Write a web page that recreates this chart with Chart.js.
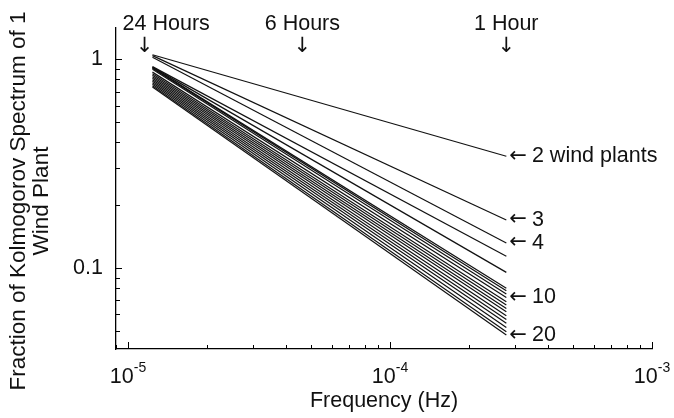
<!DOCTYPE html>
<html>
<head>
<meta charset="utf-8">
<script src="https://cdn.jsdelivr.net/npm/chart.js@4.4.1/dist/chart.umd.min.js"></script>
<style>
  html, body { margin: 0; padding: 0; background: #fff; }
  #wrap { width: 674px; height: 418px; }
</style>
</head>
<body>
<div id="wrap"><canvas id="spectrum-chart" width="674" height="418"></canvas></div>
<script>
// number of wind plants combined, one curve each
const plants = [2, 3, 4, 5, 6, 7, 8, 9, 10, 11, 12, 13, 14, 15, 16, 17, 18, 19, 20];
// curve end points (Hz)
const freqStart = 1.24e-5;
const freqEnd = 2.78e-4;
// fraction of the single-plant spectrum at each end
const startValues = [1.05, 1.04, 1.022, 0.921, 0.916, 0.911, 0.906, 0.896, 0.867, 0.852,
                     0.838, 0.825, 0.811, 0.798, 0.785, 0.772, 0.759, 0.747, 0.735];
const endValues = [0.343, 0.170, 0.132, 0.114, 0.0954, 0.0800, 0.0779, 0.0751, 0.0724, 0.0690,
                   0.0665, 0.0641, 0.0618, 0.0591, 0.0568, 0.0544, 0.0520, 0.0496, 0.0478];

// time-scale markers along the top
const periodLabels = ['24 Hours', '6 Hours', '1 Hour'];
const periodFreqs = [1 / 86400, 1 / 21600, 1 / 3600];

// curves that get a label at the right
const labelledPlants = [2, 3, 4, 10, 20];

const yTickLabels = [1, 0.1];
const xDecades = [-5, -4, -3];
const yTitle = ['Fraction of Kolmogorov Spectrum of 1', 'Wind Plant'];

const FONT = '"Liberation Sans", Arial, Helvetica, sans-serif';
const ARROW_FONT = '"DejaVu Sans", sans-serif';
const INK = '#111';

const datasets = plants.map((n, i) => ({
  label: n + ' wind plants',
  data: [{ x: freqStart, y: startValues[i] }, { x: freqEnd, y: endValues[i] }],
  borderColor: '#111',
  borderWidth: 1.2,
  pointRadius: 0,
  fill: false,
  tension: 0
}));

// inward tick marks, superscript decade labels, y title and the text markers
const decorations = {
  id: 'decorations',
  afterDraw(chart) {
    const ctx = chart.ctx;
    const xs = chart.scales.x;
    const ys = chart.scales.y;
    const area = chart.chartArea;
    ctx.save();
    ctx.strokeStyle = '#000';
    ctx.lineWidth = 1;

    // x ticks pointing up from the bottom axis
    for (let e = -6; e <= -3; e++) {
      for (let m = 1; m <= 9; m++) {
        const v = m * Math.pow(10, e);
        if (v < xs.min || v > xs.max * 1.0001) continue;
        const px = Math.round(xs.getPixelForValue(v)) + 0.5;
        const len = m === 1 ? 7 : 4;
        ctx.beginPath();
        ctx.moveTo(px, area.bottom);
        ctx.lineTo(px, area.bottom - len);
        ctx.stroke();
      }
    }
    // y ticks pointing right from the left axis
    for (let e = -2; e <= 0; e++) {
      for (let m = 1; m <= 9; m++) {
        const v = m * Math.pow(10, e);
        if (v < ys.min || v > ys.max) continue;
        const py = Math.round(ys.getPixelForValue(v)) + 0.5;
        const len = m === 1 ? 6 : 4;
        ctx.beginPath();
        ctx.moveTo(area.left, py);
        ctx.lineTo(area.left + len, py);
        ctx.stroke();
      }
    }

    ctx.fillStyle = INK;

    // 10^n labels under the x axis
    xDecades.forEach(e => {
      const px = xs.getPixelForValue(Math.pow(10, e));
      ctx.font = '21.5px ' + FONT;
      const base = '10';
      const bw = ctx.measureText(base).width;
      ctx.font = '14px ' + FONT;
      const sup = String(e);
      const sw = ctx.measureText(sup).width;
      const left = px - (bw + sw) / 2;
      ctx.textAlign = 'left';
      ctx.textBaseline = 'alphabetic';
      ctx.font = '21.5px ' + FONT;
      ctx.fillText(base, left, 383);
      ctx.font = '14px ' + FONT;
      ctx.fillText(sup, left + bw, 372);
    });

    // y axis title, two lines rotated
    ctx.save();
    ctx.translate(0, 201);
    ctx.rotate(-Math.PI / 2);
    ctx.font = '22.5px ' + FONT;
    ctx.textAlign = 'center';
    ctx.textBaseline = 'middle';
    ctx.fillText(yTitle[0], 0, 19);
    ctx.fillText(yTitle[1], 0, 42);
    ctx.restore();

    // period markers with down arrows
    ctx.textAlign = 'center';
    ctx.textBaseline = 'alphabetic';
    periodFreqs.forEach((f, i) => {
      const px = xs.getPixelForValue(f);
      ctx.font = '21.5px ' + FONT;
      if (i === 0) {
        ctx.textAlign = 'left';
        ctx.fillText(periodLabels[i], px - 22, 30);
        ctx.textAlign = 'center';
      } else {
        ctx.fillText(periodLabels[i], px, 30);
      }
      ctx.font = '21px ' + ARROW_FONT;
      ctx.fillText('\u2193', px, 52);
    });

    // curve labels at the right-hand ends
    ctx.textAlign = 'left';
    ctx.textBaseline = 'middle';
    labelledPlants.forEach(n => {
      const i = plants.indexOf(n);
      const px = xs.getPixelForValue(freqEnd) + 3;
      const py = ys.getPixelForValue(endValues[i]);
      const txt = n === 2 ? '2 wind plants' : String(n);
      ctx.font = '21px ' + ARROW_FONT;
      ctx.fillText('\u2190', px, py);
      const aw = ctx.measureText('\u2190').width;
      ctx.font = '21.5px ' + FONT;
      ctx.fillText(txt, px + aw + 5, py);
    });
    ctx.restore();
  }
};

new Chart(document.getElementById('spectrum-chart'), {
  type: 'line',
  data: { datasets: datasets },
  options: {
    responsive: false,
    animation: false,
    devicePixelRatio: 1,
    layout: { padding: { left: 0, top: 28, right: 22, bottom: 0 } },
    plugins: {
      legend: { display: false },
      tooltip: { enabled: false }
    },
    scales: {
      x: {
        type: 'logarithmic',
        min: 9.0e-6,
        max: 1e-3,
        grid: { display: false },
        border: { display: true, color: '#000', width: 1.3 },
        ticks: { display: false },
        title: {
          display: true,
          text: 'Frequency (Hz)',
          color: INK,
          font: { family: FONT, size: 21.5 },
          padding: { top: 0, bottom: 4 }
        },
        afterFit(scale) { scale.height = 69; }
      },
      y: {
        type: 'logarithmic',
        min: 0.041,
        max: 1.41,
        grid: { display: false },
        border: { display: true, color: '#000', width: 1.3 },
        ticks: {
          autoSkip: false,
          padding: 5,
          color: INK,
          font: { family: FONT, size: 21.5 },
          callback: v => yTickLabels.includes(v) ? String(v) : ''
        },
        afterFit(scale) { scale.width = 116; }
      }
    }
  },
  plugins: [decorations]
});
</script>
</body>
</html>
